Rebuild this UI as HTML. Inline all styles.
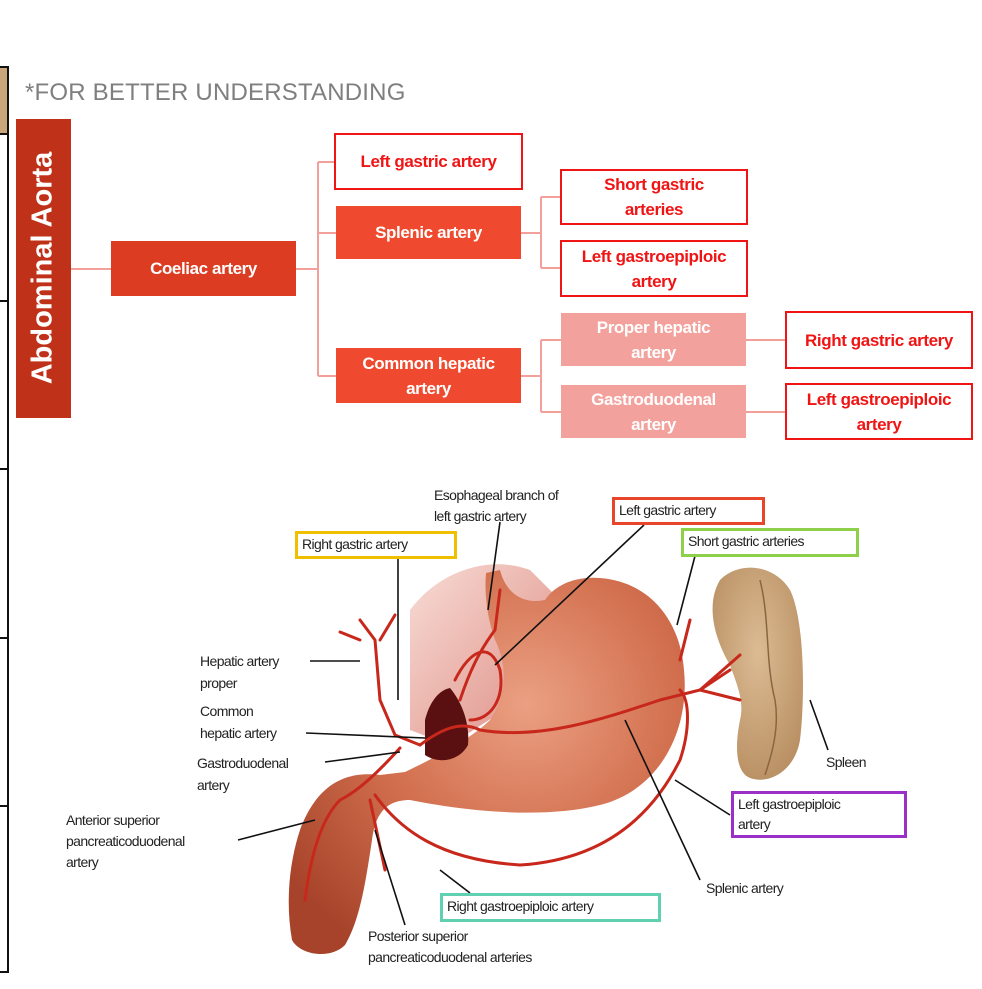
<!DOCTYPE html>
<html><head><meta charset="utf-8"><style>
*{margin:0;padding:0;box-sizing:border-box}
body{width:982px;height:989px;background:#fff;position:relative;overflow:hidden;font-family:"Liberation Sans",sans-serif}
.b{position:absolute;display:flex;align-items:center;justify-content:center;text-align:center;font-weight:bold;font-size:17px;line-height:25px;letter-spacing:-0.4px}
.o{border:2px solid #f01414;color:#f01414;background:#fff}
.f{background:#ef4a2f;color:#fff}
.p{background:#f3a19c;color:#fff}
.l{position:absolute;font-size:14px;letter-spacing:-0.6px;color:#222;line-height:22px;white-space:nowrap}
.bx{position:absolute;border:3px solid;font-size:14px;letter-spacing:-0.6px;color:#222;line-height:20px;padding-left:4px;background:#fff}
</style></head><body>
<div style="position:absolute;left:0;top:67px;width:8px;height:66px;background:#c9a57a"></div>
<div style="position:absolute;left:7px;top:66px;width:2px;height:907px;background:#111"></div>
<div style="position:absolute;left:0;top:66px;width:9px;height:2px;background:#111"></div>
<div style="position:absolute;left:0;top:133px;width:9px;height:2px;background:#111"></div>
<div style="position:absolute;left:0;top:300px;width:9px;height:2px;background:#111"></div>
<div style="position:absolute;left:0;top:468px;width:9px;height:2px;background:#111"></div>
<div style="position:absolute;left:0;top:637px;width:9px;height:2px;background:#111"></div>
<div style="position:absolute;left:0;top:805px;width:9px;height:2px;background:#111"></div>
<div style="position:absolute;left:0;top:971px;width:9px;height:2px;background:#111"></div>

<div style="position:absolute;left:25px;top:79px;font-size:24px;color:#7f7f7f;letter-spacing:0.2px">*FOR BETTER UNDERSTANDING</div>

<div style="position:absolute;left:16px;top:119px;width:55px;height:299px;background:#c0311a"></div>
<div style="position:absolute;left:43px;top:268px;transform:translate(-50%,-50%) rotate(-90deg);color:#fff;font-weight:bold;font-size:29px;white-space:nowrap">Abdominal Aorta</div>

<svg style="position:absolute;left:0;top:0" width="982" height="989">
<g stroke="#f3a09a" stroke-width="2" fill="none">
<path d="M71 269H111M296 269H318M318 162V376M318 162H334M318 233H336M318 376H336"/>
<path d="M521 233H541M541 197V268M541 197H560M541 268H560"/>
<path d="M521 376H541M541 340V412M541 340H561M541 412H561"/>
<path d="M746 340H785M746 412H785"/>
</g>
</svg>

<div class="b f" style="left:111px;top:241px;width:185px;height:55px;background:#dc3d22">Coeliac artery</div>
<div class="b o" style="left:334px;top:133px;width:189px;height:57px">Left gastric artery</div>
<div class="b f" style="left:336px;top:206px;width:185px;height:53px">Splenic artery</div>
<div class="b f" style="left:336px;top:348px;width:185px;height:55px">Common hepatic<br>artery</div>
<div class="b o" style="left:560px;top:169px;width:188px;height:56px">Short gastric<br>arteries</div>
<div class="b o" style="left:560px;top:240px;width:188px;height:57px">Left gastroepiploic<br>artery</div>
<div class="b p" style="left:561px;top:313px;width:185px;height:53px">Proper hepatic<br>artery</div>
<div class="b p" style="left:561px;top:385px;width:185px;height:53px">Gastroduodenal<br>artery</div>
<div class="b o" style="left:785px;top:311px;width:188px;height:58px">Right gastric artery</div>
<div class="b o" style="left:785px;top:383px;width:188px;height:57px">Left gastroepiploic<br>artery</div>

<svg style="position:absolute;left:0;top:0" width="982" height="989">
<defs>
<radialGradient id="st" cx="0.6" cy="0.35" r="0.75">
<stop offset="0" stop-color="#eba083"/><stop offset="0.5" stop-color="#d2704f"/><stop offset="1" stop-color="#a6432a"/>
</radialGradient>
<linearGradient id="om" x1="0" y1="0" x2="1" y2="1"><stop offset="0" stop-color="#f8dcd6"/><stop offset="1" stop-color="#dc8a80"/></linearGradient>
<radialGradient id="sp" cx="0.5" cy="0.4" r="0.7"><stop offset="0" stop-color="#dcbb93"/><stop offset="1" stop-color="#b58b5e"/></radialGradient>
</defs>
<path d="M410 610 C440 570 490 555 530 570 L560 600 L520 700 L450 745 L410 730 Z" fill="url(#om)"/>
<path d="M486 573 L500 570 C505 590 520 605 545 600 C555 585 575 576 600 578 C650 582 680 620 684 670 C690 730 660 790 600 805 C540 820 460 810 410 800 C385 800 375 815 372 840 C366 880 360 920 345 945 C330 960 300 955 292 940 C285 900 290 860 300 830 C315 790 340 770 380 775 L405 772 C430 760 470 740 490 720 C510 690 505 660 495 640 C488 620 484 595 486 573 Z" fill="url(#st)"/>
<path d="M425 720 C430 700 440 690 450 688 C460 700 470 720 468 745 C460 760 440 765 425 755 Z" fill="#5a1010"/>
<path d="M720 580 C740 560 775 565 790 590 C805 620 805 700 800 740 C795 770 770 785 750 778 C735 772 735 745 740 720 C745 700 735 680 730 665 C715 640 705 605 720 580 Z" fill="url(#sp)"/>
<path d="M760 580 C770 620 765 660 775 700 C780 730 770 760 765 775" stroke="#8a6640" stroke-width="1.5" fill="none"/>
<g stroke="#c8281c" stroke-width="3" fill="none" stroke-linecap="round">
<path d="M360 620 L375 640 L380 700 L395 735 L420 745"/>
<path d="M380 640 L395 615 M360 640 L340 632"/>
<path d="M420 745 C440 730 460 720 480 730 C540 740 600 720 660 700 L700 690 L730 670"/>
<path d="M700 690 L740 655 M700 690 L740 700"/>
<path d="M400 748 C380 770 360 790 340 800 C320 820 310 860 305 900"/>
<path d="M375 795 C400 830 440 860 520 865 C600 860 650 820 680 760 C690 730 690 700 680 690"/>
<path d="M460 700 C470 670 480 650 495 630 L500 590"/>
<path d="M455 680 C470 650 490 640 500 670 C505 700 490 720 470 720"/>
<path d="M680 660 L690 620"/>
<path d="M370 800 L385 870"/>
</g>
<g stroke="#111" stroke-width="1.6" fill="none">
<path d="M310 661H360"/>
<path d="M306 733L425 738"/>
<path d="M325 762L400 752"/>
<path d="M238 840L315 820"/>
<path d="M398 558V700"/>
<path d="M500 522L488 610"/>
<path d="M644 525L495 665"/>
<path d="M695 556L677 625"/>
<path d="M810 700L828 750"/>
<path d="M730 815L675 780"/>
<path d="M625 720L700 880"/>
<path d="M470 893L440 870"/>
<path d="M405 925L375 830"/>
</g>
</svg>

<div class="l" style="left:434px;top:485px;line-height:21px">Esophageal branch of<br>left gastric artery</div>
<div class="bx" style="left:612px;top:497px;width:153px;height:28px;border-color:#e8452a">Left gastric artery</div>
<div class="bx" style="left:295px;top:531px;width:162px;height:28px;border-color:#f0bf00">Right gastric artery</div>
<div class="bx" style="left:681px;top:528px;width:178px;height:29px;border-color:#8fd04a">Short gastric arteries</div>
<div class="bx" style="left:731px;top:791px;width:176px;height:47px;border-color:#9b30c8">Left gastroepiploic<br>artery</div>
<div class="bx" style="left:440px;top:893px;width:221px;height:29px;border-color:#5fd0b0">Right gastroepiploic artery</div>
<div class="l" style="left:200px;top:650px">Hepatic artery<br>proper</div>
<div class="l" style="left:200px;top:700px">Common<br>hepatic artery</div>
<div class="l" style="left:197px;top:752px">Gastroduodenal<br>artery</div>
<div class="l" style="left:66px;top:810px;line-height:21px">Anterior superior<br>pancreaticoduodenal<br>artery</div>
<div class="l" style="left:826px;top:751px">Spleen</div>
<div class="l" style="left:706px;top:877px">Splenic artery</div>
<div class="l" style="left:368px;top:926px;line-height:21px">Posterior superior<br>pancreaticoduodenal arteries</div>
</body></html>
